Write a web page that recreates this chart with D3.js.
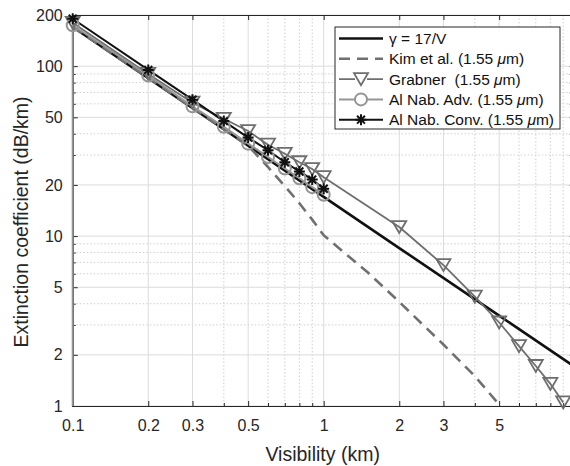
<!DOCTYPE html>
<html>
<head>
<meta charset="utf-8">
<script src="https://cdn.jsdelivr.net/npm/d3@7"></script>
<style>
  body { margin: 0; background: #fff; }
  svg { font-family: "Liberation Sans", Arial, sans-serif; }
  .legend text { white-space: pre; }
</style>
</head>
<body>
<div id="chart"></div>
<script>
// tick values
const xMajor = [0.1, 0.2, 0.3, 0.5, 1, 2, 3, 5, 10];
const xMinor = [0.4, 0.6, 0.7, 0.8, 0.9, 4, 6, 7, 8, 9];
const yMajor = [1, 2, 5, 10, 20, 50, 100, 200];
const yMinor = [3, 4, 6, 7, 8, 9, 30, 40, 60, 70, 80, 90];

// gamma = 17/V
const gammaVis = [0.1, 0.2, 0.5, 1, 2, 5, 10];
const gammaVal = [170, 85, 34, 17, 8.5, 3.4, 1.7];

// Kim et al.
const kimVis = [0.1, 0.2, 0.3, 0.4, 0.5, 0.6, 0.7, 0.8, 0.9, 1, 1.5, 2, 3, 4, 5];
const kimVal = [170, 85, 56.7, 42.5, 34, 25.5, 19.7, 15.6, 12.5, 10.1, 6.1, 4.1, 2.3, 1.5, 1.02];

// Grabner
const grabVis = [0.1, 0.2, 0.3, 0.4, 0.5, 0.6, 0.7, 0.8, 0.9, 1, 2, 3, 4, 5, 6, 7, 8, 9];
const grabVal = [180, 90, 61, 49, 41.5, 34.5, 30.5, 27.2, 24.8, 22.2, 11.3, 6.75, 4.4, 3.1, 2.25, 1.72, 1.35, 1.05];

// Al Nab. Adv. (first point drops below the axis)
const advVis = [0.1, 0.1, 0.2, 0.3, 0.4, 0.5, 0.6, 0.7, 0.8, 0.9, 1];
const advVal = [0.5, 174, 88, 58, 44, 35, 29.2, 25, 21.9, 19.4, 17.5];

// Al Nab. Conv.
const convVis = [0.1, 0.2, 0.3, 0.4, 0.5, 0.6, 0.7, 0.8, 0.9, 1];
const convVal = [190, 95, 63.5, 47.5, 38, 32, 27.2, 24, 21.5, 19];

const legendLabels = ["\u03b3 = 17/V", "Kim et al. (1.55 ", "Grabner  (1.55 ", "Al Nab. Adv. (1.55 ", "Al Nab. Conv. (1.55 "];

const W = 570, H = 466;
const pLeft = 72.7, pRight = 574.7, pTop = 15, pBottom = 406;

const svg = d3.select("#chart").append("svg")
    .attr("width", W).attr("height", H);

const x = d3.scaleLog().domain([0.1, 10]).range([pLeft, pRight]);
const y = d3.scaleLog().domain([1, 200]).range([pBottom, pTop]);

svg.append("defs").append("clipPath").attr("id", "clip")
    .append("rect").attr("x", pLeft - 2).attr("y", pTop)
    .attr("width", pRight - pLeft + 2).attr("height", pBottom - pTop);

// grid
const grid = svg.append("g");
grid.selectAll("line.xmin").data(xMinor).enter().append("line")
    .attr("x1", d => x(d)).attr("x2", d => x(d)).attr("y1", pTop).attr("y2", pBottom)
    .attr("stroke", "#cfcfcf").attr("stroke-dasharray", "1.5,2");
grid.selectAll("line.ymin").data(yMinor).enter().append("line")
    .attr("y1", d => y(d)).attr("y2", d => y(d)).attr("x1", pLeft).attr("x2", pRight)
    .attr("stroke", "#cfcfcf").attr("stroke-dasharray", "1.5,2");
grid.selectAll("line.xmaj").data(xMajor).enter().append("line")
    .attr("x1", d => x(d)).attr("x2", d => x(d)).attr("y1", pTop).attr("y2", pBottom)
    .attr("stroke", "#dcdcdc");
grid.selectAll("line.ymaj").data(yMajor).enter().append("line")
    .attr("y1", d => y(d)).attr("y2", d => y(d)).attr("x1", pLeft).attr("x2", pRight)
    .attr("stroke", "#dcdcdc");

// axes (10 sits past the visible edge, so it gets no label)
const fmt = d => d >= 10 ? "" : String(d);
const xAxis = svg.append("g").attr("transform", `translate(0,${pBottom})`)
    .call(d3.axisBottom(x).tickValues(xMajor).tickFormat(fmt).tickSize(-5).tickPadding(14));
const xAxisMinor = svg.append("g").attr("transform", `translate(0,${pBottom})`)
    .call(d3.axisBottom(x).tickValues(xMinor).tickFormat("").tickSize(-3));
const xTop = svg.append("g").attr("transform", `translate(0,${pTop})`)
    .call(d3.axisTop(x).tickValues(xMajor).tickFormat("").tickSize(-5));
const yAxis = svg.append("g").attr("transform", `translate(${pLeft},0)`)
    .call(d3.axisLeft(y).tickValues(yMajor).tickFormat(d => String(d)).tickSize(-5).tickPadding(10));
const yAxisMinor = svg.append("g").attr("transform", `translate(${pLeft},0)`)
    .call(d3.axisLeft(y).tickValues(yMinor).tickFormat("").tickSize(-3));
const yRight = svg.append("g").attr("transform", `translate(${pRight},0)`)
    .call(d3.axisRight(y).tickValues(yMajor.concat(yMinor)).tickFormat("").tickSize(-5));

[xAxis, xAxisMinor, xTop, yAxis, yAxisMinor, yRight].forEach(a => {
    a.select(".domain").attr("stroke", "#262626").attr("stroke-width", 1.2);
    a.selectAll(".tick line").attr("stroke", "#262626");
    a.selectAll(".tick text").attr("fill", "#262626").attr("font-size", 16)
        .attr("font-family", "'Liberation Sans', Arial, sans-serif");
});

// axis labels
svg.append("text").attr("x", (pLeft + pRight) / 2 - 1).attr("y", 461)
    .attr("text-anchor", "middle").attr("font-size", 19.5).attr("fill", "#262626")
    .text("Visibility (km)");
svg.append("text").attr("transform", "translate(28,222) rotate(-90)")
    .attr("text-anchor", "middle").attr("font-size", 19.5).attr("fill", "#262626")
    .text("Extinction coefficient (dB/km)");

// markers
function triPath() { return "M-7,-6L7,-6L0,6Z"; }
function starPath() { const r = 5.5, q = r * 0.72;
    return `M${-r},0L${r},0M0,${-r}L0,${r}M${-q},${-q}L${q},${q}M${-q},${q}L${q},${-q}`; }

const series = [
    { vis: gammaVis, val: gammaVal, color: "#111", width: 2.6, dash: null, marker: null },
    { vis: kimVis, val: kimVal, color: "#707070", width: 2.6, dash: "11,7", marker: null },
    { vis: grabVis, val: grabVal, color: "#6e6e6e", width: 1.8, dash: null, marker: "tri" },
    { vis: advVis, val: advVal, color: "#959595", width: 2, dash: null, marker: "circle" },
    { vis: convVis, val: convVal, color: "#111", width: 2, dash: null, marker: "star" }
];

const plot = svg.append("g").attr("clip-path", "url(#clip)");
const line = d3.line().x(d => x(d[0])).y(d => y(d[1]));

function drawMarker(g, type, color, width) {
    if (type === "tri") g.append("path").attr("d", triPath()).attr("fill", "none")
        .attr("stroke", color).attr("stroke-width", width);
    else if (type === "circle") g.append("circle").attr("r", 6).attr("fill", "none")
        .attr("stroke", color).attr("stroke-width", width);
    else if (type === "star") g.append("path").attr("d", starPath()).attr("fill", "none")
        .attr("stroke", color).attr("stroke-width", 2);
}

series.forEach(s => {
    const pts = s.vis.map((v, i) => [v, s.val[i]]);
    plot.append("path").datum(pts).attr("d", line)
        .attr("fill", "none").attr("stroke", s.color).attr("stroke-width", s.width)
        .attr("stroke-dasharray", s.dash).attr("stroke-linejoin", "round");
    if (s.marker) {
        pts.filter(p => p[1] >= 1).forEach(p => {
            const g = svg.append("g").attr("transform", `translate(${x(p[0])},${y(p[1])})`);
            drawMarker(g, s.marker, s.color, s.width);
        });
    }
});

// legend
const lg = svg.append("g").attr("class", "legend");
lg.append("rect").attr("x", 335).attr("y", 27).attr("width", 225).attr("height", 102)
    .attr("fill", "#fff").attr("stroke", "#262626").attr("stroke-width", 1);
series.forEach((s, i) => {
    const ly = 38.5 + i * 20.3;
    lg.append("line").attr("x1", 339).attr("x2", 383).attr("y1", ly).attr("y2", ly)
        .attr("stroke", s.color).attr("stroke-width", s.width)
        .attr("stroke-dasharray", s.dash);
    if (s.marker) {
        const g = lg.append("g").attr("transform", `translate(361,${ly})`);
        if (s.marker !== "star") g.append("rect").attr("x", -6).attr("y", -6)
            .attr("width", 12).attr("height", 12).attr("fill", "#fff");
        drawMarker(g, s.marker, s.color, s.width);
    }
    const t = lg.append("text").attr("x", 389).attr("y", ly).attr("dy", "0.35em")
        .attr("font-size", 15.5).attr("fill", "#111").text(legendLabels[i]);
    if (i > 0) {
        t.append("tspan").attr("font-style", "italic").text("\u03bc");
        t.append("tspan").text("m)");
    }
});
</script>
</body>
</html>
